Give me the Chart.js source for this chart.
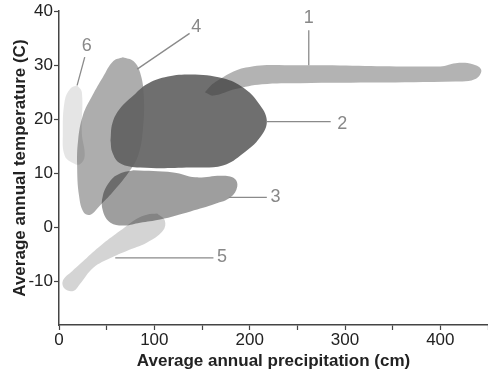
<!DOCTYPE html>
<html>
<head>
<meta charset="utf-8">
<script src="https://cdn.jsdelivr.net/npm/chart.js@4"></script>
<style>
  body { margin: 0; background: #fff; }
  #wrap { width: 488px; height: 372px; }
</style>
</head>
<body>
<div id="wrap"><canvas id="biomeChart"></canvas></div>
<script>
// outlines of the biome regions, precipitation (cm) / temperature (C)
const biome1 = [[153,25.0],[164,26.9],[196,29.6],[253,30.0],[400,29.8],[416,30.4],[434,30.2],[443,29.1],[436,27.4],[416,27.0],[253,26.7],[213,26.5],[185,25.6],[162,24.4],[153,25.0]];
const biome2 = [[54,16.1],[56,19.3],[64,22.0],[78,24.4],[92,26.5],[111,27.8],[138,28.3],[172,27.6],[193,25.9],[209,23.1],[218,19.8],[211,16.7],[193,13.7],[172,11.5],[138,11.1],[85,11.1],[64,11.9],[56,13.9],[54,16.1]];
const biome3 = [[78,10.6],[120,10.2],[143,9.3],[171,9.6],[184,9.1],[187,7.6],[180,5.6],[164,4.4],[138,3.0],[106,1.5],[85,0.9],[69,0.4],[54,0.9],[46,3.1],[46,5.9],[54,8.7],[64,10.0],[78,10.6]];
const biome4 = [[67,31.5],[78,30.8],[85,28.7],[89,24.4],[88,18.0],[83,13.3],[73,10.2],[56,6.5],[43,4.1],[33,2.4],[26,2.8],[21,5.9],[19,11.5],[20,16.1],[25,20.7],[35,24.4],[46,27.8],[57,30.8],[67,31.5]];
const biome5 = [[103,2.6],[111,1.3],[109,-0.6],[92,-2.8],[71,-4.3],[54,-5.6],[36,-7.4],[22,-10.4],[15,-11.7],[6,-11.3],[4,-9.8],[14,-8.0],[29,-5.6],[46,-3.0],[64,-0.6],[82,1.7],[92,2.4],[103,2.6]];
const biome6 = [[19,26.3],[24,25.0],[24,17.4],[27,13.3],[22,11.7],[15,11.9],[6,13.3],[4,17.4],[6,23.5],[12,25.7],[19,26.3]];

// callout text and leader lines
const labelText = ["1", "2", "3", "4", "5", "6"];
const labelPos = [[262,38.7],[297,19.1],[227,5.6],[144,37.0],[171,-5.4],[29,33.5]];
const leaders = [
  [[262,36.5],[262,30.0]],
  [[218,19.6],[285,19.6]],
  [[178,5.6],[218,5.6]],
  [[137,35.9],[82,29.3]],
  [[59,-5.6],[162,-5.6]],
  [[27,31.5],[19,26.3]]
];

const xTicks = [0, 50, 100, 150, 200, 250, 300, 350, 400, 450];
const yTicks = [-10, 0, 10, 20, 30, 40];

const toPts = arr => arr.map(p => ({ x: p[0], y: p[1] }));

// first in list is painted on top
const blobs = [
  { data: biome6, color: "rgba(0,0,0,0.10)" },
  { data: biome5, color: "rgba(0,0,0,0.17)" },
  { data: biome1, color: "rgba(54,54,54,0.38)" },
  { data: biome2, color: "rgba(95,95,95,0.9)" },
  { data: biome3, color: "rgba(0,0,0,0.38)" },
  { data: biome4, color: "rgba(0,0,0,0.32)" }
];

const datasets = [];
leaders.forEach(l => {
  datasets.push({
    data: toPts(l),
    showLine: true,
    borderColor: "#8a8a8a",
    borderWidth: 1.3,
    pointRadius: 0,
    fill: false,
    tension: 0
  });
});
blobs.forEach(b => {
  datasets.push({
    data: toPts(b.data),
    showLine: true,
    borderWidth: 0,
    borderColor: "rgba(0,0,0,0)",
    backgroundColor: b.color,
    pointRadius: 0,
    fill: "shape",
    tension: 0.4
  });
});

const calloutLabels = {
  id: "calloutLabels",
  afterDatasetsDraw(chart) {
    const ctx = chart.ctx;
    const xs = chart.scales.x, ys = chart.scales.y;
    ctx.save();
    ctx.font = "18px 'Liberation Sans', Arial, sans-serif";
    ctx.fillStyle = "#888";
    ctx.textAlign = "center";
    ctx.textBaseline = "middle";
    labelText.forEach((t, i) => {
      ctx.fillText(t, xs.getPixelForValue(labelPos[i][0]), ys.getPixelForValue(labelPos[i][1]));
    });
    ctx.restore();
  }
};

const font = "'Liberation Sans', Arial, sans-serif";

new Chart(document.getElementById("biomeChart"), {
  type: "scatter",
  data: { datasets: datasets },
  plugins: [calloutLabels],
  options: {
    responsive: true,
    maintainAspectRatio: false,
    animation: false,
    layout: { padding: { top: 10, right: 0, left: 0, bottom: 0 } },
    plugins: { legend: { display: false }, tooltip: { enabled: false } },
    scales: {
      x: {
        type: "linear",
        min: 0,
        max: 450,
        afterBuildTicks: s => { s.ticks = xTicks.map(v => ({ value: v })); },
        afterFit: s => { s.height = 47; },
        grid: { drawOnChartArea: false, drawTicks: true, tickLength: 5, color: "#444", tickWidth: 1.2 },
        border: { color: "#444", width: 1.5 },
        ticks: {
          color: "#222",
          padding: 0,
          maxRotation: 0,
          autoSkip: false,
          font: { family: font, size: 17 },
          callback: v => (v % 100 === 0 ? v : "")
        },
        title: {
          display: true,
          text: "Average annual precipitation (cm)",
          color: "#222",
          font: { family: font, size: 17, weight: "bold" },
          padding: { top: 0, bottom: 0 }
        }
      },
      y: {
        type: "linear",
        min: -18,
        max: 40,
        afterBuildTicks: s => { s.ticks = yTicks.map(v => ({ value: v })); },
        afterFit: s => { s.width = 59; },
        grid: { drawOnChartArea: false, drawTicks: true, tickLength: 5, color: "#444", tickWidth: 1.2 },
        border: { color: "#444", width: 1.5 },
        ticks: {
          color: "#222",
          padding: 1,
          autoSkip: false,
          font: { family: font, size: 17 }
        },
        title: {
          display: true,
          text: "Average annual temperature (C)",
          color: "#222",
          font: { family: font, size: 17, weight: "bold" },
          padding: { top: 10, bottom: 0 }
        }
      }
    }
  }
});
</script>
</body>
</html>
